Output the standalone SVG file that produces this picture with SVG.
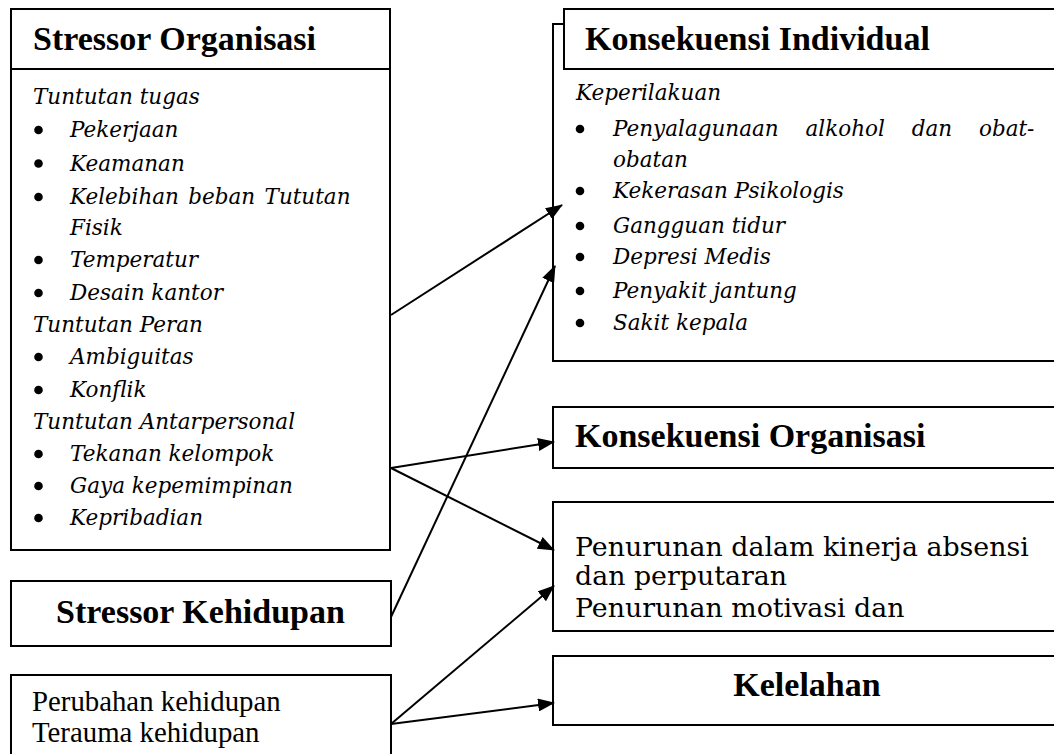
<svg xmlns="http://www.w3.org/2000/svg" width="1054" height="754" viewBox="0 0 1054 754">
<style>
.box{fill:#fff;stroke:#000;stroke-width:2}
.hd{font-family:"Liberation Serif",serif;font-weight:bold;font-size:34px;fill:#000}
.it{font-family:"DejaVu Serif",serif;font-style:italic;font-size:21.5px;fill:#000}
.rg{font-family:"Liberation Serif",serif;font-size:28.8px;fill:#000}
.rg2{font-family:"DejaVu Serif",serif;font-size:26.8px;fill:#000}
.bu{fill:#000}
.cn{stroke:#000;stroke-width:2;fill:none;marker-end:url(#ah)}
</style>
<defs>
<marker id="ah" markerUnits="userSpaceOnUse" viewBox="0 0 17 13" markerWidth="17" markerHeight="13" refX="16" refY="6.5" orient="auto">
<path d="M0,0 L17,6.5 L0,13 z" fill="#000"/>
</marker>
</defs>
<rect width="1054" height="754" fill="#fff"/>

<g id="stressor-organisasi">
<rect class="box" x="11" y="9" width="379" height="541"/>
<line x1="11" y1="69" x2="390" y2="69" stroke="#000" stroke-width="2"/>
<text class="hd" x="33" y="49.5">Stressor Organisasi</text>
<text class="it" x="33" y="104">Tuntutan tugas</text>
<circle class="bu" cx="38.5" cy="130" r="4.3"/><text class="it" x="70" y="137">Pekerjaan</text>
<circle class="bu" cx="38.5" cy="163.5" r="4.3"/><text class="it" x="70" y="170.5">Keamanan</text>
<circle class="bu" cx="38.5" cy="197" r="4.3"/><text class="it" x="70" y="204" word-spacing="2.5">Kelebihan beban Tututan</text>
<text class="it" x="70" y="235">Fisik</text>
<circle class="bu" cx="38.5" cy="260" r="4.3"/><text class="it" x="70" y="267">Temperatur</text>
<circle class="bu" cx="38.5" cy="293" r="4.3"/><text class="it" x="70" y="300">Desain kantor</text>
<text class="it" x="33" y="331.5">Tuntutan Peran</text>
<circle class="bu" cx="38.5" cy="357" r="4.3"/><text class="it" x="70" y="364">Ambiguitas</text>
<circle class="bu" cx="38.5" cy="390" r="4.3"/><text class="it" x="70" y="397">Konflik</text>
<text class="it" x="33" y="429">Tuntutan Antarpersonal</text>
<circle class="bu" cx="38.5" cy="454" r="4.3"/><text class="it" x="70" y="461">Tekanan kelompok</text>
<circle class="bu" cx="38.5" cy="486" r="4.3"/><text class="it" x="70" y="493">Gaya kepemimpinan</text>
<circle class="bu" cx="38.5" cy="518" r="4.3"/><text class="it" x="70" y="525">Kepribadian</text>
</g>

<g id="stressor-kehidupan">
<rect class="box" x="11" y="581" width="380" height="65"/>
<text class="hd" x="200.5" y="623" text-anchor="middle">Stressor Kehidupan</text>
</g>

<g id="kehidupan-list">
<rect class="box" x="11" y="675" width="380" height="90"/>
<text class="rg" x="32" y="711">Perubahan kehidupan</text>
<text class="rg" x="32" y="742">Terauma kehidupan</text>
</g>

<g id="konsekuensi-individual">
<rect class="box" x="553" y="24" width="510" height="337"/>
<rect class="box" x="564" y="9" width="500" height="60"/>
<text class="hd" x="585" y="50">Konsekuensi Individual</text>
<text class="it" x="576" y="100">Keperilakuan</text>
<circle class="bu" cx="580" cy="129" r="4.3"/><text class="it" x="613" y="136" word-spacing="20">Penyalagunaan alkohol dan obat-</text>
<text class="it" x="613" y="167">obatan</text>
<circle class="bu" cx="580" cy="191" r="4.3"/><text class="it" x="613" y="198">Kekerasan Psikologis</text>
<circle class="bu" cx="580" cy="226" r="4.3"/><text class="it" x="613" y="233">Gangguan tidur</text>
<circle class="bu" cx="580" cy="257" r="4.3"/><text class="it" x="613" y="264">Depresi Medis</text>
<circle class="bu" cx="580" cy="291" r="4.3"/><text class="it" x="613" y="298">Penyakit jantung</text>
<circle class="bu" cx="580" cy="323" r="4.3"/><text class="it" x="613" y="330">Sakit kepala</text>
</g>

<g id="konsekuensi-organisasi">
<rect class="box" x="553" y="407" width="510" height="61"/>
<text class="hd" x="575" y="447">Konsekuensi Organisasi</text>
</g>

<g id="penurunan">
<rect class="box" x="553" y="502" width="510" height="129"/>
<text class="rg2" x="575" y="556">Penurunan dalam kinerja absensi</text>
<text class="rg2" x="575" y="585">dan perputaran</text>
<text class="rg2" x="575" y="617">Penurunan motivasi dan</text>
</g>

<g id="kelelahan">
<rect class="box" x="553" y="656" width="510" height="69"/>
<text class="hd" x="807" y="696" text-anchor="middle">Kelelahan</text>
</g>

<g id="connectors">
<line class="cn" x1="391" y1="315" x2="562" y2="205"/>
<line class="cn" x1="391" y1="617" x2="555" y2="266"/>
<line class="cn" x1="391" y1="468" x2="554" y2="442"/>
<line class="cn" x1="391" y1="468" x2="554" y2="550"/>
<line class="cn" x1="391" y1="724" x2="554" y2="586"/>
<line class="cn" x1="391" y1="724" x2="554" y2="703"/>
</g>
</svg>
